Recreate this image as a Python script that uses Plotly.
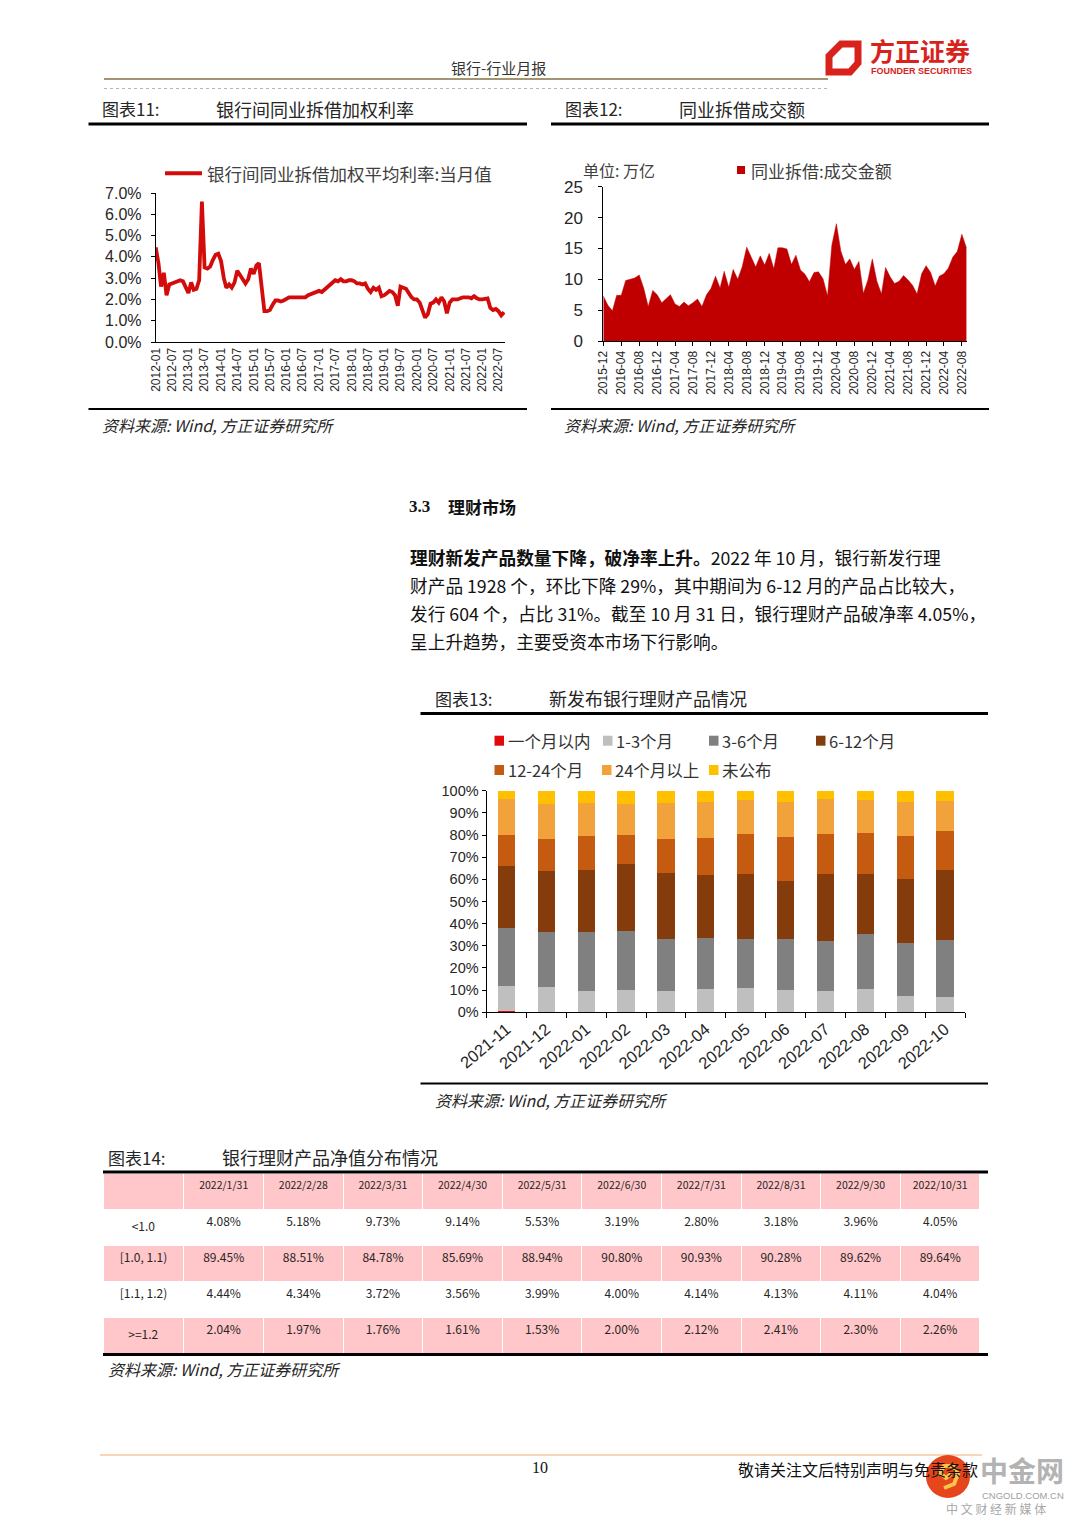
import pandas as pd
import plotly.graph_objects as go

W, H = 1080, 1527
OFF = 8  # the page body adds an 8px margin around the figure


def px(x):
    return (x - OFF) / W


def py(y):
    return 1 - (y - OFF) / H


# ---------------- DATA ----------------
# 图表11: 银行间同业拆借加权平均利率:当月值 (%), monthly from 2012-01
RATE_START = "2012-01-01"
RATE_VALUES = [
    4.45, 3.7, 2.6, 3.25, 2.2, 2.7, 2.75, 2.8, 2.85, 2.9, 2.85, 2.55,      # 2012
    2.3, 2.8, 2.45, 2.5, 2.9, 6.6, 3.5, 3.45, 3.55, 3.85, 4.1, 4.15,       # 2013
    3.8, 3.0, 2.55, 2.7, 2.55, 2.8, 3.35, 3.15, 2.9, 2.75, 2.95, 3.45,     # 2014
    3.2, 3.6, 3.7, 2.7, 1.45, 1.45, 1.5, 1.75, 1.95, 1.95, 1.9, 1.95,      # 2015
    2.05, 2.1, 2.1, 2.1, 2.1, 2.1, 2.1, 2.1, 2.2, 2.25, 2.3, 2.35,         # 2016
    2.4, 2.35, 2.45, 2.55, 2.65, 2.75, 2.9, 2.85, 2.95, 2.85, 2.85, 2.9,   # 2017
    2.9, 2.85, 2.75, 2.75, 2.7, 2.75, 2.5, 2.35, 2.55, 2.45, 2.55, 2.15,   # 2018
    2.2, 2.3, 2.4, 2.35, 2.2, 1.7, 2.6, 2.55, 2.5, 2.3, 2.1, 2.0,          # 2019
    2.0, 1.85, 1.5, 1.15, 1.3, 1.8, 1.85, 2.0, 1.85, 2.1, 1.9, 1.35,       # 2020
    1.85, 2.0, 2.0, 2.0, 2.05, 2.1, 2.1, 2.1, 2.05, 2.15, 2.05, 2.0,       # 2021
    2.0, 2.05, 2.05, 1.6, 1.5, 1.55, 1.45, 1.25, 1.4,                      # 2022
]
RATE_NAME = "银行间同业拆借加权平均利率:当月值"

# 图表12: 同业拆借:成交金额 (万亿), monthly from 2015-12
VOL_START = "2015-12-01"
VOL_VALUES = [
    7.3, 5.8, 4.9, 7.4, 7.4, 9.8, 10.0, 10.2, 10.7, 8.5, 5.6, 8.2,
    7.5, 6.2, 6.9, 7.5, 6.0, 5.6, 6.3, 5.7, 6.2, 6.8, 5.6, 7.5,
    8.5, 10.5, 8.6, 11.3, 8.7, 11.6, 10.0, 12.0, 15.2, 13.5, 12.0, 13.8,
    12.3, 14.2, 11.7, 15.1, 15.1, 14.9, 12.4, 13.9, 11.5, 10.8, 9.6, 11.1,
    11.2, 10.1, 7.3, 15.5, 19.0, 14.6, 12.4, 13.3, 11.6, 12.9, 7.7, 9.9,
    13.3, 9.7, 7.6, 11.9, 10.4, 9.3, 9.7, 10.6, 9.9, 9.0, 7.6, 10.9,
    12.2, 11.1, 8.9, 10.5, 10.9, 11.8, 13.6, 14.5, 17.3, 15.1,
]
VOL_NAME = "同业拆借:成交金额"

# 图表13: 新发布银行理财产品情况 (占比 %)
MONTHS_13 = ["2021-11", "2021-12", "2022-01", "2022-02", "2022-03", "2022-04",
             "2022-05", "2022-06", "2022-07", "2022-08", "2022-09", "2022-10"]
SERIES_NAMES = ["一个月以内", "1-3个月", "3-6个月", "6-12个月", "12-24个月", "24个月以上", "未公布"]
S_LT1M = [0.7, 0, 0, 0, 0, 0, 0, 0, 0, 0, 0, 0]
S_1_3M = [11.2, 11.4, 9.5, 9.9, 9.5, 10.7, 11.1, 10.2, 9.8, 10.7, 7.5, 7.1]
S_3_6M = [26.0, 24.7, 26.6, 26.9, 23.7, 22.7, 21.8, 22.7, 22.2, 24.6, 23.9, 25.5]
S_6_12M = [28.1, 27.5, 28.3, 30.1, 29.7, 28.7, 29.7, 26.3, 30.6, 27.3, 28.8, 31.5]
S_12_24M = [14.0, 14.6, 15.0, 13.3, 15.3, 16.5, 17.9, 19.7, 17.9, 18.3, 19.5, 17.7]
S_24M_UP = [16.2, 15.8, 15.0, 13.8, 16.2, 16.4, 15.1, 16.1, 15.7, 14.9, 15.3, 13.7]
S_UNKNOWN = [3.8, 6.0, 5.6, 6.0, 5.6, 5.0, 4.4, 5.0, 3.8, 4.2, 5.0, 4.5]
SERIES_VALUES = [S_LT1M, S_1_3M, S_3_6M, S_6_12M, S_12_24M, S_24M_UP, S_UNKNOWN]

# 图表14: 银行理财产品净值分布情况
TABLE_DATES = ["2022/1/31", "2022/2/28", "2022/3/31", "2022/4/30", "2022/5/31",
               "2022/6/30", "2022/7/31", "2022/8/31", "2022/9/30", "2022/10/31"]
TABLE_ROWS = ["<1.0", "[1.0, 1.1)", "[1.1, 1.2)", ">=1.2"]
NAV_LT_1_0 = ["4.08%", "5.18%", "9.73%", "9.14%", "5.53%", "3.19%", "2.80%", "3.18%", "3.96%", "4.05%"]
NAV_1_0_1_1 = ["89.45%", "88.51%", "84.78%", "85.69%", "88.94%", "90.80%", "90.93%", "90.28%", "89.62%", "89.64%"]
NAV_1_1_1_2 = ["4.44%", "4.34%", "3.72%", "3.56%", "3.99%", "4.00%", "4.14%", "4.13%", "4.11%", "4.04%"]
NAV_GE_1_2 = ["2.04%", "1.97%", "1.76%", "1.61%", "1.53%", "2.00%", "2.12%", "2.41%", "2.30%", "2.26%"]

# ---------------- STYLE ----------------
CJK = "Noto Sans CJK SC"
NUM = "Liberation Sans"
TXT = "#262626"
SERIES_COLORS = ["#e00a0a", "#bfbfbf", "#808080", "#843c0c", "#c55a11", "#f2a23a", "#ffc000"]
PINK = "#ffc7c9"

fig = go.Figure()

# Chart 11: line
rate_dates = pd.date_range(RATE_START, periods=len(RATE_VALUES), freq="MS")
fig.add_trace(go.Scatter(
    x=rate_dates, y=RATE_VALUES, mode="lines", name=RATE_NAME,
    line=dict(color="#d40b0b", width=3.8), xaxis="x", yaxis="y", showlegend=False,
))

# Chart 12: area
vol_dates = pd.date_range(VOL_START, periods=len(VOL_VALUES), freq="MS")
fig.add_trace(go.Scatter(
    x=vol_dates, y=VOL_VALUES, mode="lines", name=VOL_NAME, fill="tozeroy",
    fillcolor="#c00000", line=dict(color="#c00000", width=0.5),
    xaxis="x2", yaxis="y2", showlegend=False,
))

# Chart 13: stacked bars
for name, vals, col in zip(SERIES_NAMES, SERIES_VALUES, SERIES_COLORS):
    fig.add_trace(go.Bar(
        x=MONTHS_13, y=vals, name=name, marker=dict(color=col, line=dict(width=0)),
        xaxis="x3", yaxis="y3", showlegend=False,
    ))

# Chart 14: table
cols = [TABLE_ROWS]
for i in range(len(TABLE_DATES)):
    cols.append([NAV_LT_1_0[i], NAV_1_0_1_1[i], NAV_1_1_1_2[i], NAV_GE_1_2[i]])
row_fill = ["white", PINK, "white", PINK]
fig.add_trace(go.Table(
    domain=dict(x=[px(103), px(981)], y=[py(1356), py(1173)]),
    columnwidth=[81] + [79.7] * len(TABLE_DATES),
    header=dict(values=[""] + TABLE_DATES, fill_color=PINK, align="center",
                height=36, line=dict(color="white", width=1),
                font=dict(family=CJK, size=10.5, color=TXT)),
    cells=dict(values=cols, fill_color=[row_fill] * (len(TABLE_DATES) + 1),
               align="center", height=36, line=dict(color="white", width=1),
               font=dict(family=CJK, size=12, color=TXT)),
))

axis_common = dict(showline=True, linecolor="#000", linewidth=1, showgrid=False,
                   zeroline=False, tickcolor="#000", ticklen=4, automargin=False,
                   tickfont=dict(family=NUM, color=TXT))

fig.update_layout(
    width=W, height=H, autosize=False,
    margin=dict(l=0, r=0, t=0, b=0, pad=0, autoexpand=False),
    paper_bgcolor="white", plot_bgcolor="white", barmode="stack", bargap=0.57,
    showlegend=False,
    xaxis=dict(axis_common, domain=[px(155.7), px(505)], type="date",
               range=["2012-01-01", "2022-09-12"], dtick="M6", tick0="2012-01-01",
               tickformat="%Y-%m", tickangle=-90, ticks="",
               tickfont=dict(family=NUM, size=12, color=TXT), anchor="y"),
    yaxis=dict(axis_common, domain=[py(342), py(193)], range=[0, 7], dtick=1,
               tickformat=".1f", ticksuffix="%", ticks="outside", ticklabelstandoff=6,
               tickfont=dict(family=NUM, size=16, color=TXT), anchor="x"),
    xaxis2=dict(axis_common, domain=[px(603.3), px(967)], type="date",
                range=["2015-12-01", "2022-09-05"], dtick="M4", tick0="2015-12-01",
                tickformat="%Y-%m", tickangle=-90, ticks="outside",
                tickfont=dict(family=NUM, size=12, color=TXT), anchor="y2"),
    yaxis2=dict(axis_common, domain=[py(341), py(186.7)], range=[0, 25], dtick=5,
                ticks="outside", ticklabelstandoff=12,
                tickfont=dict(family=NUM, size=17, color=TXT), anchor="x2"),
    xaxis3=dict(axis_common, domain=[px(486.5), px(965)], type="category",
                range=[-0.5, 11.5], tickangle=-40, ticks="outside", tickson="boundaries",
                ticklen=5, tickfont=dict(family=NUM, size=16.5, color=TXT), anchor="y3"),
    yaxis3=dict(axis_common, domain=[py(1012.3), py(790.7)], range=[0, 100], dtick=10,
                ticksuffix="%", ticks="outside",
                tickfont=dict(family=NUM, size=14.5, color=TXT), anchor="x3"),
)

shapes = []
ann = []


def hline(x0, x1, y, color="#000", width=1, dash="solid"):
    shapes.append(dict(type="line", xref="paper", yref="paper", x0=px(x0), x1=px(x1),
                       y0=py(y), y1=py(y), line=dict(color=color, width=width, dash=dash)))


def text(x, y, s, size=16, color=TXT, family=CJK, xanchor="left", yanchor="middle"):
    ann.append(dict(xref="paper", yref="paper", x=px(x), y=py(y), text=s, showarrow=False,
                    xanchor=xanchor, yanchor=yanchor,
                    font=dict(family=family, size=size, color=color)))


def box(x0, y0, x1, y1, color):
    shapes.append(dict(type="rect", xref="paper", yref="paper", x0=px(x0), x1=px(x1),
                       y0=py(y1), y1=py(y0), fillcolor=color, line=dict(width=0)))


def poly(points, color, width, closed=True):
    p = "M " + " L ".join(f"{px(x):.5f},{py(y):.5f}" for x, y in points) + (" Z" if closed else "")
    shapes.append(dict(type="path", xref="paper", yref="paper", path=p,
                       line=dict(color=color, width=width)))


# ---- page header ----
text(498, 68, "银行-行业月报", size=15, color="#333", xanchor="center")
hline(104, 828, 79, color="#a39572", width=2)
hline(104, 828, 88.5, color="#b5b5b5", width=1, dash="dot")
poly([(829, 56), (841, 44), (858, 44), (858, 63), (850, 72), (829, 72)], "#d8231c", 7)
text(920, 50, "<b>方正证券</b>", size=25, color="#d8231c", xanchor="center")
text(921, 71, "<b>FOUNDER SECURITIES</b>", size=9, color="#d8231c", family=NUM, xanchor="center")

# ---- chart 11 / 12 frames ----
text(100, 109, "图表11:", size=17)
text(214, 109, "银行间同业拆借加权利率", size=18)
hline(88.5, 527, 124, width=3.2)
hline(88.5, 527, 409, width=2)
text(100, 425, "<i>资料来源: Wind, 方正证券研究所</i>", size=16)

text(563, 109, "图表12:", size=17)
text(677, 109, "同业拆借成交额", size=18)
hline(551, 989, 124, width=3.2)
hline(551, 989, 409, width=2)
text(562, 425, "<i>资料来源: Wind, 方正证券研究所</i>", size=16)

# legend chart 11
hline(165, 202, 173.3, color="#d40b0b", width=4)
text(205, 173, RATE_NAME, size=17.5, color="#404040")
# legend chart 12
text(581, 170, "单位: 万亿", size=16, color="#404040")
box(737, 166, 745, 174, "#c00000")
text(749, 170, VOL_NAME, size=17, color="#404040")

# ---- section text ----
text(407, 506, "<b>3.3</b>", size=17, family="Liberation Serif", color="#111")
text(446, 506, "<b>理财市场</b>", size=17, color="#111")
para = [
    "<b>理财新发产品数量下降，破净率上升。</b>2022 年 10 月，银行新发行理",
    "财产品 1928 个，环比下降 29%，其中期间为 6-12 月的产品占比较大，",
    "发行 604 个，占比 31%。截至 10 月 31 日，银行理财产品破净率 4.05%，",
    "呈上升趋势，主要受资本市场下行影响。",
]
for i, line in enumerate(para):
    text(408, 557 + 28 * i, line, size=17.7, color="#111")

# ---- chart 13 frame ----
text(433, 698, "图表13:", size=17)
text(547, 698, "新发布银行理财产品情况", size=18)
hline(420.5, 988, 713.5, width=3.2)
hline(420.5, 988, 1083.5, width=2)
text(433, 1100, "<i>资料来源: Wind, 方正证券研究所</i>", size=16)

# legend chart 13
leg_pos = [(494.5, 740.7), (603, 740.7), (709, 740.7), (816, 740.7),
           (494.5, 770), (602, 770), (709, 770)]
for (lx, ly), name, col in zip(leg_pos, SERIES_NAMES, SERIES_COLORS):
    box(lx, ly - 5, lx + 9.5, ly + 5, col)
    text(lx + 11, ly, name, size=16.5, color="#333")

# ---- chart 14 frame ----
text(106, 1157, "图表14:", size=17)
text(220, 1157, "银行理财产品净值分布情况", size=18)
hline(103, 988, 1172, width=3.2)
hline(103, 988, 1354.5, width=3)
text(106, 1369, "<i>资料来源: Wind, 方正证券研究所</i>", size=16)

# ---- footer ----
hline(100, 982, 1455, color="#f7c8a0", width=1.5)
text(540, 1467, "10", size=16, family="Liberation Serif", color="#111", xanchor="center")
text(736, 1469, "敬请关注文后特别声明与免责条款", size=16, color="#111")
shapes.append(dict(type="circle", xref="paper", yref="paper", x0=px(926), x1=px(970),
                   y0=py(1498), y1=py(1455), fillcolor="#e5461c", line=dict(width=0)))
poly([(944, 1488), (954, 1484), (958, 1474), (953, 1466), (944, 1466), (940, 1473),
      (946, 1478), (951, 1474)], "#fbc64a", 4, closed=False)
text(1022, 1470, "<b>中金网</b>", size=28, color="#b3b3b3", xanchor="center")
text(1023, 1495, "CNGOLD.COM.CN", size=9.5, color="#a0a0a0", family=NUM, xanchor="center")
text(996, 1508, "中 文 财 经 新 媒 体", size=12, color="#a8a8a8", xanchor="center")

fig.update_layout(shapes=shapes, annotations=ann)
fig.write_html("out.html")
